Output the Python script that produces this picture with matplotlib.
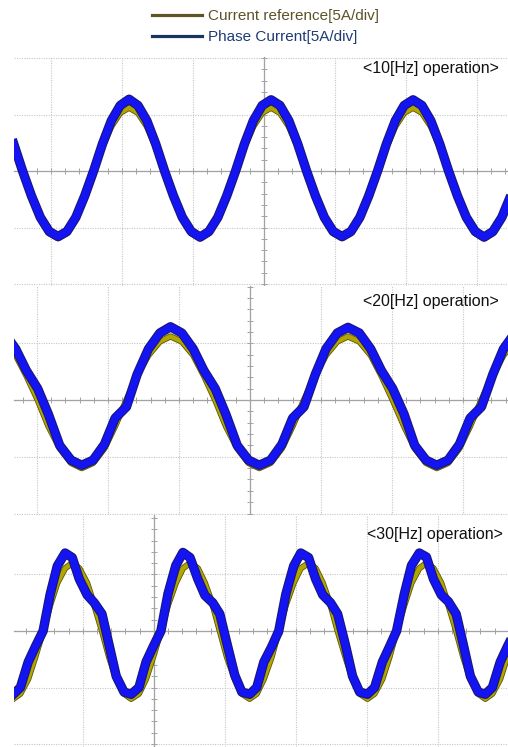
import matplotlib
matplotlib.use('Agg')
from matplotlib import pyplot as plt
from matplotlib.lines import Line2D
from matplotlib.ticker import MultipleLocator, FixedLocator
import matplotlib.patheffects as pe

# scope traces, time in divisions, current in divisions (5 A/div)
t10 = [-3.525, -3.4, -3.275, -3.15, -3.025, -2.9, -2.775, -2.65, -2.525, -2.4,
       -2.275, -2.15, -2.025, -1.9, -1.775, -1.65, -1.525, -1.4, -1.275, -1.15,
       -1.025, -0.9, -0.775, -0.65, -0.525, -0.4, -0.275, -0.15, -0.025, 0.1,
       0.225, 0.35, 0.475, 0.6, 0.725, 0.85, 0.975, 1.1, 1.225, 1.35,
       1.475, 1.6, 1.725, 1.85, 1.975, 2.1, 2.225, 2.35, 2.475, 2.6,
       2.725, 2.85, 2.975, 3.1, 3.225, 3.35, 3.475]
ref10 = [0.43, 0, -0.46, -0.84, -1.10, -1.19, -1.10, -0.84, -0.46, 0, 0.43, 0.79, 1.03,
         1.12, 1.03, 0.79, 0.43, 0, -0.46, -0.84, -1.10, -1.19, -1.10, -0.84, -0.46, 0, 0.43, 0.79, 1.03,
         1.12, 1.03, 0.79, 0.43, 0, -0.46, -0.84, -1.10, -1.19, -1.10, -0.84, -0.46, 0, 0.43, 0.79, 1.03,
         1.12, 1.03, 0.79, 0.43, 0, -0.46, -0.84, -1.10, -1.19, -1.10, -0.84, -0.46]
cur10 = [0.48, 0, -0.44, -0.82, -1.07, -1.16, -1.07, -0.82, -0.44, 0, 0.48, 0.89, 1.16,
         1.27, 1.16, 0.89, 0.48, 0, -0.44, -0.82, -1.07, -1.17, -1.07, -0.82, -0.44, 0, 0.48, 0.89, 1.16,
         1.26, 1.16, 0.89, 0.48, 0, -0.44, -0.82, -1.07, -1.16, -1.07, -0.82, -0.44, 0, 0.48, 0.89, 1.16,
         1.26, 1.16, 0.89, 0.48, 0, -0.44, -0.82, -1.07, -1.17, -1.07, -0.82, -0.44]

t20 = [-3.46, -3.30, -3.15, -2.99, -2.84, -2.68, -2.52, -2.37, -2.21, -2.05,
       -1.90, -1.74, -1.59, -1.43, -1.27, -1.12, -0.96, -0.80, -0.65, -0.49,
       -0.34, -0.18, -0.02, 0.13, 0.29, 0.45, 0.60, 0.76, 0.92, 1.07,
       1.23, 1.38, 1.54, 1.70, 1.85, 2.01, 2.17, 2.32, 2.48, 2.63,
       2.79, 2.95, 3.10, 3.26, 3.42, 3.57, 3.73]
ref20 = [1.03, 0.79, 0.43, 0, -0.46, -0.85, -1.11, -1.2, -1.11, -0.85, -0.46, 0, 0.43, 0.79, 1.03,
         1.12, 1.03, 0.79, 0.43, 0, -0.46, -0.85, -1.11, -1.2, -1.11, -0.85, -0.46, 0, 0.43, 0.79, 1.03,
         1.12, 1.03, 0.79, 0.43, 0, -0.46, -0.85, -1.11, -1.2, -1.11, -0.85, -0.46, 0, 0.43, 0.79, 1.03]
cur20 = [1.18, 0.90, 0.52, 0.20, -0.25, -0.80, -1.06, -1.15, -1.06, -0.78, -0.32, -0.12, 0.45, 0.90, 1.18,
         1.29, 1.18, 0.90, 0.52, 0.20, -0.25, -0.80, -1.06, -1.15, -1.06, -0.78, -0.32, -0.12, 0.45, 0.90, 1.18,
         1.28, 1.18, 0.90, 0.52, 0.20, -0.25, -0.80, -1.06, -1.15, -1.06, -0.78, -0.32, -0.12, 0.45, 0.90, 1.18]

t30 = [-1.98, -1.88, -1.77, -1.67, -1.56, -1.46, -1.36, -1.25, -1.15, -1.05,
       -0.94, -0.84, -0.73, -0.63, -0.53, -0.42, -0.32, -0.21, -0.11, -0.01,
       0.10, 0.20, 0.31, 0.41, 0.51, 0.62, 0.72, 0.83, 0.93, 1.03,
       1.14, 1.24, 1.35, 1.45, 1.55, 1.66, 1.76, 1.86, 1.97, 2.07,
       2.18, 2.28, 2.38, 2.49, 2.59, 2.70, 2.80, 2.90, 3.01, 3.11,
       3.22, 3.32, 3.42, 3.53, 3.63, 3.74, 3.84, 3.94, 4.05, 4.15,
       4.26, 4.36, 4.46, 4.57, 4.67, 4.77, 4.88, 4.98, 5.09]
ref30 = [-1.2, -1.11, -0.85, -0.46, 0, 0.46, 0.85, 1.11, 1.2, 1.11, 0.85, 0.46, 0, -0.46, -0.85, -1.11,
         -1.2, -1.11, -0.85, -0.46, 0, 0.46, 0.85, 1.11, 1.2, 1.11, 0.85, 0.46, 0, -0.46, -0.85, -1.11,
         -1.2, -1.11, -0.85, -0.46, 0, 0.46, 0.85, 1.11, 1.2, 1.11, 0.85, 0.46, 0, -0.46, -0.85, -1.11,
         -1.2, -1.11, -0.85, -0.46, 0, 0.46, 0.85, 1.11, 1.2, 1.11, 0.85, 0.46, 0, -0.46, -0.85, -1.11,
         -1.2, -1.11, -0.85, -0.46, 0]
cur30 = [-1.12, -1.0, -0.55, -0.28, 0.0, 0.65, 1.15, 1.38, 1.30, 0.92, 0.64, 0.50, 0.30, -0.25, -0.80, -1.08,
         -1.12, -1.0, -0.55, -0.28, 0.0, 0.66, 1.16, 1.39, 1.30, 0.92, 0.63, 0.50, 0.30, -0.22, -0.78, -1.08,
         -1.12, -1.0, -0.55, -0.28, 0.0, 0.65, 1.15, 1.38, 1.30, 0.92, 0.64, 0.50, 0.30, -0.25, -0.80, -1.08,
         -1.12, -1.0, -0.55, -0.28, 0.0, 0.66, 1.16, 1.38, 1.31, 0.92, 0.64, 0.52, 0.30, -0.24, -0.80, -1.08,
         -1.12, -1.0, -0.55, -0.28, 0.0]

opLabels = ['<10[Hz] operation>', '<20[Hz] operation>', '<30[Hz] operation>']
legendLabels = ['Current reference[5A/div]', 'Phase Current[5A/div]']

FONT = ['Liberation Sans', 'DejaVu Sans']
AXIS_GRAY = '#a3a3a3'


def scopePanel(fig, rect, xlim, ylim, yGrid, t, ref, cur, label, labelPos):
    ax = fig.add_axes(rect)
    ax.set_xlim(xlim)
    ax.set_ylim(ylim)

    for s in ['top', 'right']:
        ax.spines[s].set_visible(False)
    for s in ['left', 'bottom']:
        ax.spines[s].set_position(('data', 0))
        ax.spines[s].set_color(AXIS_GRAY)
        ax.spines[s].set_linewidth(0.9)

    ax.xaxis.set_major_locator(MultipleLocator(1))
    ax.xaxis.set_minor_locator(MultipleLocator(0.2))
    ax.yaxis.set_major_locator(FixedLocator(yGrid))
    ax.yaxis.set_minor_locator(MultipleLocator(0.2))
    ax.tick_params(which='both', direction='inout', length=5, width=0.7,
                   color=AXIS_GRAY, labelbottom=False, labelleft=False)
    ax.grid(which='major', color='#c6c6c6', linestyle=(0, (1, 1.2)), linewidth=0.8)

    # reference first, measured phase current on top
    ax.plot(t, ref, color='#b2a500', lw=3.3, zorder=3, solid_joinstyle='round',
            path_effects=[pe.Stroke(linewidth=4.5, foreground='#5c5600', joinstyle='round'),
                          pe.Normal()])
    ax.plot(t, cur, color='#1414f2', lw=5.2, zorder=4, solid_joinstyle='round',
            path_effects=[pe.Stroke(linewidth=6.8, foreground='#17177c', joinstyle='round'),
                          pe.Normal()])

    ax.text(labelPos[0], labelPos[1], label, transform=ax.transAxes, ha='right', va='center',
            fontsize=11.5, family=FONT, color='#111111')
    return ax


fig = plt.figure(figsize=(5.08, 7.47), dpi=100, facecolor='white')

scopePanel(fig, [14 / 508, 1 - 286 / 747, 494 / 508, 229 / 747],
           (-3.521, 3.437), (-2.035, 2.018), [-2, -1, 0, 1, 2],
           t10, ref10, cur10, opLabels[0], (0.982, 0.948))
scopePanel(fig, [14 / 508, 1 - 515 / 747, 494 / 508, 229 / 747],
           (-3.324, 3.634), (-2.026, 2.009), [-2, -1, 0, 1],
           t20, ref20, cur20, opLabels[1], (0.982, 0.934))
scopePanel(fig, [14 / 508, 0, 494 / 508, 232 / 747],
           (-1.97, 4.99), (-2.053, 2.053), [-2, -1, 0, 1],
           t30, ref30, cur30, opLabels[2], (0.99, 0.918))

handles = [Line2D([], [], color='#5e5524', lw=2.3),
           Line2D([], [], color='#17365d', lw=2.3)]
lgd = fig.legend(handles=handles, labels=legendLabels, loc='upper left',
                 bbox_to_anchor=(152 / 508, 1 - 9 / 747), frameon=False,
                 prop={'family': FONT, 'size': 11}, handlelength=3.3,
                 handletextpad=0.35, labelspacing=0.45, borderpad=0, borderaxespad=0)
for txt, col in zip(lgd.get_texts(), ['#5b5228', '#1f3b73']):
    txt.set_color(col)

fig.savefig('out.png', dpi=100, facecolor='white')
